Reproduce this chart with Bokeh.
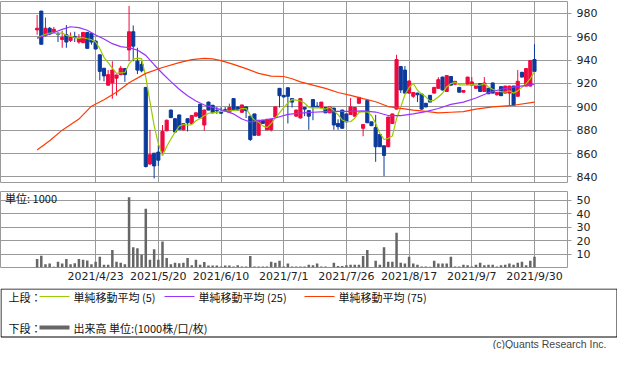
import pandas as pd
from bokeh.plotting import figure
from bokeh.layouts import column
from bokeh.models import Range1d, FixedTicker, ColumnDataSource, Grid, Label
from bokeh.embed import file_html
from bokeh.resources import INLINE
from bokeh.core.properties import value

# ---------------- data ----------------
holidays = ["2021-04-29", "2021-05-03", "2021-05-04", "2021-05-05", "2021-07-22",
            "2021-07-23", "2021-08-09", "2021-09-20", "2021-09-23"]
tick_dates = ["2021/4/23", "2021/5/20", "2021/6/10", "2021/7/1", "2021/7/26",
              "2021/8/17", "2021/9/7", "2021/9/30"]

opens = [965.8, 981.9, 961.0, 967.2, 964.2, 963.0, 957.6, 961.7, 956.8, 960.1,
         955.4, 954.9, 963.6, 962.8, 956.2, 944.5, 933.0, 918.5, 920.4, 924.5,
         927.5, 932.7, 948.6, 964.2, 939.0, 936.3, 916.6, 851.0, 860.3, 861.2,
         862.0, 879.5, 897.2, 889.8, 893.0, 880.3, 889.8, 885.7, 892.0, 902.1,
         884.4, 904.0, 901.3, 897.0, 896.0, 897.5, 895.3, 907.0, 899.9, 895.3,
         899.9, 892.0, 893.9, 875.6, 888.5, 880.3, 880.3, 891.2, 915.8, 909.8,
         916.3, 907.0, 892.0, 890.4, 899.4, 896.7, 906.2, 900.5, 899.4, 899.4,
         894.8, 898.9, 885.7, 897.2, 893.9, 893.4, 892.0, 903.0, 881.6, 905.4,
         887.1, 882.2, 876.2, 866.6, 865.8, 885.7, 898.0, 934.4, 931.4, 911.7,
         909.0, 911.7, 910.9, 903.0, 909.8, 911.7, 915.8, 925.4, 913.1, 925.9,
         919.3, 916.6, 912.5, 919.3, 918.5, 915.8, 919.9, 913.1, 915.8, 920.4,
         910.3, 917.2, 911.7, 911.7, 917.7, 909.0, 929.5, 917.7, 917.7, 940.4]
highs = [978.6, 982.0, 976.4, 968.3, 968.3, 963.6, 965.0, 969.9, 963.6, 964.2,
         962.2, 964.0, 964.0, 963.6, 957.0, 944.5, 933.0, 931.4, 939.0, 927.5,
         935.0, 933.0, 986.3, 969.6, 950.5, 939.0, 916.6, 880.3, 860.3, 867.4,
         884.4, 889.0, 897.5, 890.0, 893.4, 886.0, 890.0, 892.6, 895.0, 902.5,
         897.5, 904.5, 901.5, 899.9, 899.5, 899.9, 902.7, 907.2, 900.0, 901.6,
         900.0, 892.0, 894.0, 888.5, 888.5, 889.3, 889.3, 899.9, 916.0, 910.0,
         916.5, 907.2, 897.5, 907.0, 899.6, 897.0, 906.5, 904.0, 904.0, 899.6,
         899.9, 899.0, 889.3, 897.5, 894.0, 907.6, 899.4, 908.1, 884.9, 905.5,
         887.2, 893.1, 876.5, 866.8, 891.2, 893.9, 944.5, 935.0, 934.9, 922.5,
         912.5, 912.0, 911.0, 903.2, 910.0, 917.0, 925.4, 925.8, 927.0, 926.2,
         922.0, 916.8, 914.1, 925.6, 925.4, 918.7, 920.0, 925.4, 916.0, 920.6,
         912.4, 917.4, 918.0, 918.0, 918.0, 931.4, 929.8, 932.9, 939.8, 953.5]
lows = [961.7, 953.5, 960.0, 961.5, 963.6, 955.4, 950.5, 950.5, 955.4, 955.4,
        954.0, 954.5, 950.0, 953.2, 949.4, 922.6, 921.8, 918.0, 906.8, 909.5,
        927.0, 921.3, 939.0, 939.0, 928.0, 929.5, 848.0, 850.2, 838.7, 849.4,
        859.8, 879.0, 890.5, 878.0, 880.5, 880.0, 878.9, 885.0, 891.5, 890.0,
        879.5, 897.0, 894.5, 893.9, 894.0, 896.7, 894.8, 897.0, 896.7, 894.8,
        890.4, 870.7, 875.6, 875.6, 885.7, 880.0, 878.9, 891.0, 899.4, 908.0,
        885.7, 899.4, 891.5, 890.0, 892.0, 880.3, 888.5, 899.4, 899.0, 894.8,
        894.5, 880.3, 880.3, 881.6, 887.1, 893.0, 891.5, 902.7, 874.8, 886.3,
        883.8, 852.9, 865.8, 840.6, 865.5, 885.5, 897.8, 911.7, 911.7, 911.0,
        907.6, 904.0, 897.5, 899.5, 904.0, 911.5, 915.5, 914.0, 913.0, 918.3,
        919.0, 912.3, 912.3, 919.0, 918.3, 915.5, 913.0, 913.0, 911.0, 911.5,
        909.5, 909.3, 911.5, 901.3, 901.3, 908.8, 925.2, 917.5, 917.5, 930.0]
closes = [967.2, 953.5, 967.2, 962.2, 966.3, 962.0, 959.5, 955.4, 959.5, 959.3,
          958.7, 963.6, 950.0, 955.4, 949.4, 930.3, 926.4, 927.5, 931.4, 927.2,
          933.0, 927.5, 964.2, 951.9, 931.4, 930.8, 848.9, 859.0, 849.4, 854.3,
          878.9, 888.5, 890.7, 878.4, 880.8, 885.7, 886.3, 892.6, 894.8, 890.4,
          897.2, 897.2, 894.8, 896.5, 894.5, 897.0, 899.4, 897.2, 897.2, 901.6,
          896.7, 872.0, 875.6, 888.5, 885.7, 889.3, 889.3, 899.9, 909.5, 908.4,
          909.0, 904.0, 897.2, 907.0, 898.0, 892.0, 899.9, 899.6, 904.0, 894.8,
          899.9, 884.4, 883.0, 881.6, 887.1, 899.9, 899.4, 908.1, 884.9, 886.3,
          883.8, 865.8, 865.8, 858.4, 891.2, 893.9, 940.4, 914.4, 911.7, 922.1,
          912.2, 910.3, 898.0, 899.9, 904.0, 916.6, 923.2, 914.4, 926.7, 918.5,
          921.8, 912.5, 913.9, 925.4, 921.3, 918.5, 913.1, 920.4, 911.1, 911.7,
          912.2, 909.5, 917.7, 917.7, 901.3, 921.8, 925.4, 932.7, 939.6, 930.3]
volumes = [6.4, 8.8, 2.4, 2.9, 0.5, 4.3, 2.9, 6.4, 2.4, 3.1,
           6.4, 5.7, 5.2, 2.4, 4.3, 7.9, 2.1, 2.1, 12.9, 4.3,
           3.6, 2.4, 52.1, 15.0, 14.3, 9.5, 43.6, 5.7, 13.6, 5.7,
           19.3, 7.1, 2.4, 3.6, 3.1, 3.6, 7.1, 1.7, 5.7, 2.1,
           4.0, 1.4, 1.4, 1.4, 0.7, 1.4, 1.4, 0.7, 1.7, 0.7,
           0.7, 8.6, 0.7, 0.7, 0.7, 0.7, 4.3, 3.6, 5.0, 0.7,
           2.9, 0.7, 0.7, 0.7, 0.7, 2.1, 1.7, 2.9, 0.7, 0.7,
           0.2, 3.6, 1.2, 1.2, 1.7, 2.1, 2.1, 2.1, 8.6, 12.9,
           0.2, 5.0, 2.1, 15.0, 4.3, 4.3, 25.7, 3.6, 2.9, 7.9,
           2.9, 2.1, 0.7, 0.7, 0.5, 5.0, 2.9, 2.9, 2.9, 7.9,
           0.7, 0.7, 2.1, 1.7, 0.7, 2.1, 3.6, 1.7, 2.1, 2.1,
           0.7, 1.7, 2.1, 2.9, 2.1, 3.6, 4.3, 1.7, 5.0, 7.9]

# first four 5-day averages (need closes from before the window)
ma5_head = [958.7, 960.5, 962.0, 963.0]
# 25-day and 75-day averages
ma25_idx = [0, 2, 4, 6, 8, 10, 12, 14, 16, 18, 20, 22, 24, 26, 28, 30, 32, 34, 36, 38,
            40, 42, 44, 47, 49, 51, 54, 57, 60, 63, 66, 69, 72, 75, 78, 81, 84, 87, 90, 93,
            96, 99, 102, 105, 108, 111, 114, 117, 119]
ma25_val = [958.7, 961.0, 963.6, 966.2, 968.5, 967.8, 965.5, 961.5, 958.0, 954.0,
            951.5, 950.5, 948.5, 944.0, 936.0, 928.5, 921.5, 915.0, 909.5, 905.0,
            901.5, 899.5, 897.5, 893.9, 889.5, 887.0, 888.5, 890.4, 893.5, 894.5,
            895.3, 895.8, 896.0, 896.0, 896.5, 895.5, 892.5, 892.5, 893.9, 895.8,
            898.5, 902.0, 904.0, 907.5, 912.0, 915.0, 916.8, 918.3, 919.3]
ma75_idx = [0, 3, 6, 10, 13, 16, 19, 22, 26, 30, 34, 37, 40, 42, 44, 47, 50, 53, 56, 59,
            61, 63, 66, 69, 72, 75, 78, 81, 84, 87, 90, 93, 96, 99, 102, 105, 109, 114, 119]
ma75_val = [863.0, 871.0, 880.0, 889.5, 900.5, 906.0, 912.5, 920.5, 928.6, 933.6,
            937.8, 940.4, 941.5, 941.0, 939.5, 936.3, 932.7, 928.6, 926.2, 925.9,
            924.0, 921.3, 918.5, 915.8, 912.2, 909.8, 907.0, 904.3, 900.2, 898.6,
            897.2, 896.1, 894.8, 895.3, 895.8, 898.0, 899.9, 901.3, 904.0]

price_ticks = [840, 860, 880, 900, 920, 940, 960, 980]
vol_ticks = [10, 20, 30, 40, 50]

# ---------------- derived ----------------
dates = [d for d in pd.bdate_range("2021-04-05", "2021-09-30")
         if d.strftime("%Y-%m-%d") not in holidays]
labels = [f"{d.year}/{d.month}/{d.day}" for d in dates]
idx = list(range(len(labels)))
ticks = [labels.index(t) for t in tick_dates]

RED = "#f0083e"
BLUE = "#0b3a9a"
C_MA5 = "#99cc00"
C_MA25 = "#9933ff"
C_MA75 = "#ff3a00"
C_VOL = "#666666"
C_GRID = "#9a9a9a"
TXT = "#222222"

df = pd.DataFrame(dict(x=idx, o=opens, h=highs, l=lows, c=closes, v=volumes))
df["top"] = df[["o", "c"]].max(axis=1)
df["bot"] = df[["o", "c"]].min(axis=1)
df["col"] = [RED if c >= o else BLUE for o, c in zip(opens, closes)]
src = ColumnDataSource(df)

ma5 = pd.Series(closes).rolling(5).mean().tolist()
ma5[:4] = ma5_head

W = 617
RB = 50
xr = Range1d(-8.76, 126.9)


def style_yaxis(p, tks):
    ax = p.yaxis[0]
    ax.ticker = FixedTicker(ticks=tks)
    ax.axis_line_color = None
    ax.major_tick_out = 4
    ax.major_tick_in = 0
    ax.minor_tick_line_color = None
    ax.major_tick_line_color = C_GRID
    ax.major_label_standoff = 5
    ax.major_label_text_font = "DejaVu Sans"
    ax.major_label_text_font_size = "11px"
    ax.major_label_text_color = TXT


# ---------------- price panel ----------------
p1 = figure(width=W, height=183, x_range=xr, y_range=Range1d(835.2, 990.1),
            output_backend="svg", toolbar_location=None,
            x_axis_location=None, y_axis_location="right",
            min_border_left=0, min_border_right=RB, min_border_top=1, min_border_bottom=1)
p1.grid.visible = False
p1.add_layout(Grid(dimension=0, ticker=FixedTicker(ticks=ticks), grid_line_color=C_GRID))
p1.add_layout(Grid(dimension=1, ticker=FixedTicker(ticks=price_ticks), grid_line_color=C_GRID))
p1.outline_line_color = C_GRID
style_yaxis(p1, price_ticks)

p1.segment(x0="x", y0="h", x1="x", y1="l", line_color="col", line_width=1, source=src)
p1.vbar(x="x", top="top", bottom="bot", width=0.75, fill_color="col", line_color="col",
        line_width=1, source=src)
p1.line(idx, ma5, line_color=C_MA5, line_width=1.2)
p1.line(ma25_idx, ma25_val, line_color=C_MA25, line_width=1.2)
p1.line(ma75_idx, ma75_val, line_color=C_MA75, line_width=1.2)

# ---------------- volume panel ----------------
p2 = figure(width=W, height=105, x_range=xr, y_range=Range1d(0, 56.4),
            output_backend="svg", toolbar_location=None,
            x_axis_location="below", y_axis_location="right",
            min_border_left=0, min_border_right=RB, min_border_top=8, min_border_bottom=21)
p2.grid.visible = False
p2.add_layout(Grid(dimension=0, ticker=FixedTicker(ticks=ticks), grid_line_color=C_GRID))
p2.add_layout(Grid(dimension=1, ticker=FixedTicker(ticks=vol_ticks), grid_line_color=C_GRID))
p2.outline_line_color = C_GRID
style_yaxis(p2, vol_ticks)
xa = p2.xaxis[0]
xa.ticker = FixedTicker(ticks=ticks)
xa.major_label_overrides = {t: labels[t] for t in ticks}
xa.axis_line_color = None
xa.major_tick_out = 0
xa.major_tick_in = 0
xa.minor_tick_line_color = None
xa.major_label_standoff = 2
xa.major_label_text_font = "DejaVu Sans"
xa.major_label_text_font_size = "11px"
xa.major_label_text_color = TXT

p2.vbar(x="x", top="v", bottom=0, width=0.6, fill_color=C_VOL, line_color=None, source=src)
p2.add_layout(Label(x=xr.start + 1.1, y=51.6, text="単位: 1000", text_baseline="middle",
                    text_font="Noto Sans CJK JP", text_font_size="11px", text_color="#111111"))

# ---------------- legend / footer ----------------
H3 = 61
p3 = figure(width=W, height=H3, x_range=Range1d(0, W), y_range=Range1d(H3, 0),
            output_backend="svg", toolbar_location=None,
            x_axis_location=None, y_axis_location=None, min_border=0)
p3.grid.visible = False
p3.outline_line_color = None
p3.quad(left=[0.5], right=[W - 0.5], top=[0.5], bottom=[48.5], fill_color=None,
        line_color="#000000", line_width=1)

jp = value("Noto Sans CJK JP")
row1, row2 = 8.0, 39.0
p3.text(x=[8, 8], y=[row1, row2], text=["上段：", "下段："], text_font=jp,
        text_font_size="11px", text_baseline="middle", text_color="#111111")
legend_items = [(39, 69, 73, C_MA5, "単純移動平均 (5)"),
                (164, 194, 198, C_MA25, "単純移動平均 (25)"),
                (304, 334, 338, C_MA75, "単純移動平均 (75)")]
for x0, x1, tx, col, lab in legend_items:
    p3.line([x0, x1], [row1, row1], line_color=col, line_width=1.2)
    p3.text(x=[tx], y=[row1], text=[lab], text_font=jp, text_font_size="11px",
            text_baseline="middle", text_color="#111111")
p3.line([39, 69], [row2, row2], line_color=C_VOL, line_width=4)
p3.text(x=[73], y=[row2], text=["出来高 単位:(1000株/口/枚)"], text_font=jp,
        text_font_size="11px", text_baseline="middle", text_color="#111111")
p3.text(x=[606], y=[55.5], text=["(c)Quants Research Inc."], text_font=value("Liberation Sans"),
        text_font_size="10.5px", text_baseline="middle", text_align="right", text_color="#444444")

panels = column(p1, p2, spacing=0)
open("out.html", "w").write(file_html([panels, p3], INLINE))
